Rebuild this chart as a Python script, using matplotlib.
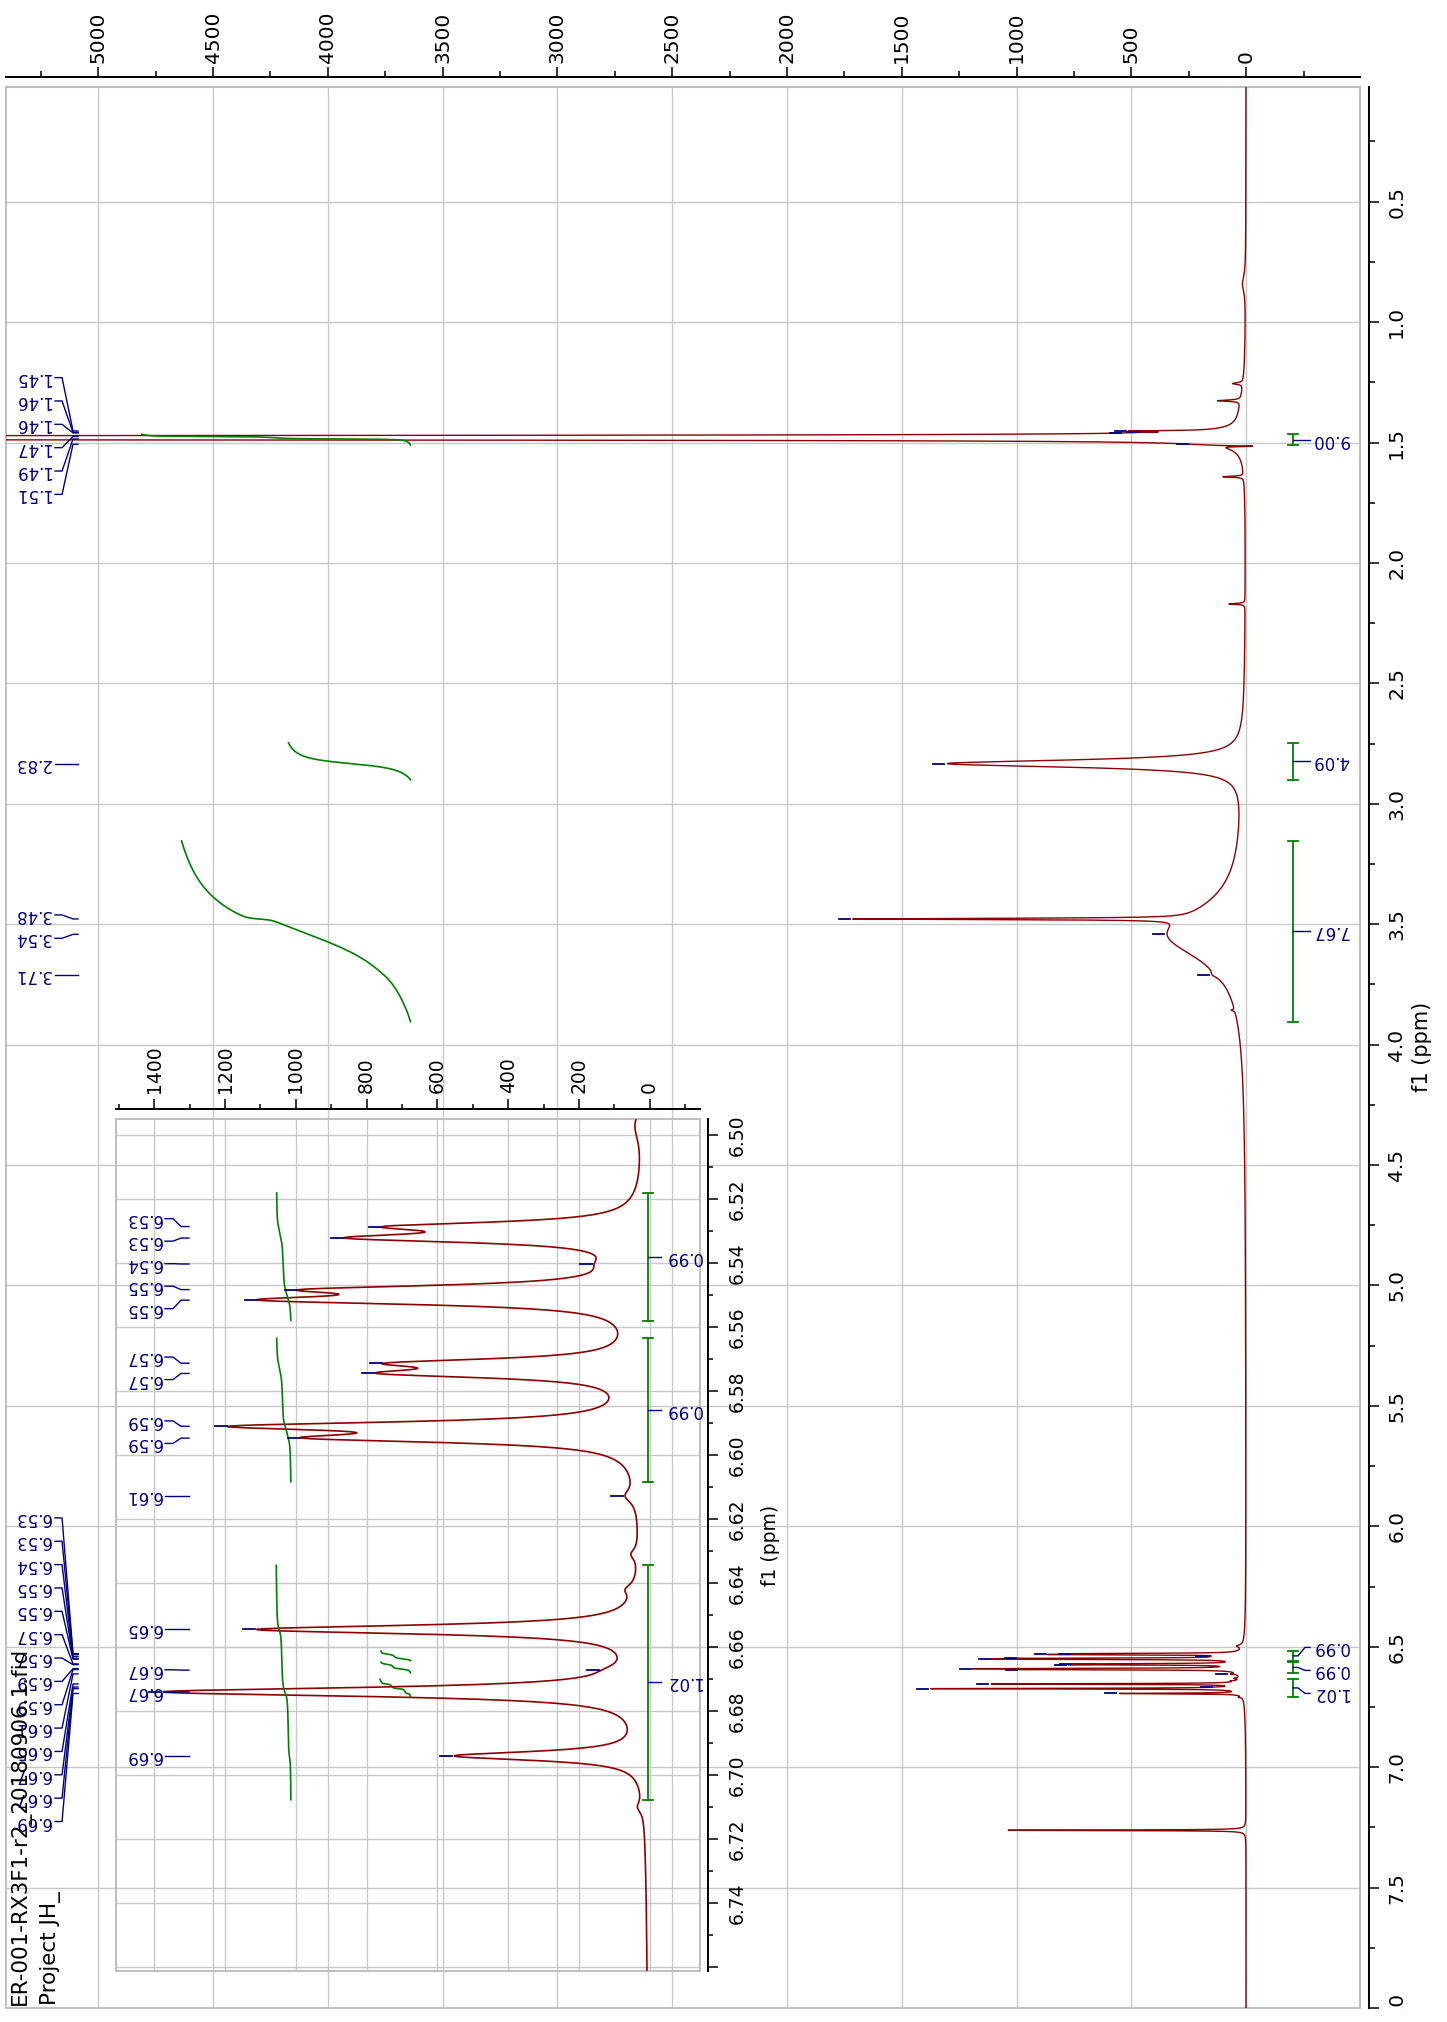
import numpy as np
import matplotlib
matplotlib.use("Agg")
import matplotlib.pyplot as plt
from matplotlib.ticker import MultipleLocator, FormatStrFormatter, FuncFormatter
from matplotlib.transforms import blended_transform_factory, Bbox, TransformedBbox
from matplotlib.patches import Rectangle

plt.rcParams['font.family'] = ['DejaVu Sans']

# ------------------------------------------------------------------ data
# peaks of the 1H spectrum: position (ppm), height, width (ppm)
peak_ppm = [0.84, 1.255, 1.326, 1.38, 1.452, 1.458, 1.460, 1.4749, 1.4851, 1.507, 1.515,
            1.642, 2.17, 2.833, 3.478, 3.542, 3.71, 3.857,
            6.497, 6.5286, 6.5322, 6.5403, 6.5483, 6.5516, 6.5713, 6.5745, 6.591, 6.5947,
            6.6128, 6.631, 6.642, 6.6545, 6.6672, 6.674, 6.694, 6.71, 6.60, 7.262]
peak_height = [14, 45, 100, 20, 280, 40, 30, 75000, 75000, 10, -170,
               90, 70, 1290, 1440, 340, 20, 15,
               25, 600, 720, 45, 765, 915, 580, 605, 1025, 780,
               30, 20, 25, 1080, 25, 1350, 530, 15, 20, 1040]
peak_width = [0.08, 0.008, 0.006, 0.25, 0.004, 0.003, 0.003, 0.002, 0.002, 0.004, 0.004,
              0.005, 0.005, 0.036, 0.006, 0.26, 0.03, 0.006,
              0.012, 0.0033, 0.0033, 0.006, 0.0033, 0.0033, 0.0033, 0.0033, 0.0033, 0.0033,
              0.005, 0.004, 0.004, 0.0033, 0.004, 0.0033, 0.0033, 0.004, 0.2, 0.003]

# labelled peaks (ppm)
label_ppm = [1.452, 1.458, 1.460, 1.4749, 1.4851, 1.507, 2.833, 3.478, 3.542, 3.71,
             6.5286, 6.5322, 6.5403, 6.5483, 6.5516, 6.5713, 6.5745, 6.591, 6.5947,
             6.6128, 6.6545, 6.6672, 6.674, 6.694]

# integrals
int_lo = [1.465, 2.747, 3.154, 6.518, 6.5633, 6.6343]
int_hi = [1.510, 2.900, 3.905, 6.558, 6.6084, 6.7077]
int_val = [9.00, 4.09, 7.67, 0.99, 0.99, 1.02]

title_lines = ["ER-001-RX3F1-r2_20180906.1.fid", "Project JH_"]

# axis ranges
main_xlim = (5402, -496)
main_ylim = (8.0, 0.0225)
inset_xlim = (1508, -142)
inset_ylim = (6.7612, 6.495)

# ------------------------------------------------------------------ style
RED = '#8b0000'
NAVY = '#000080'
GREEN = '#008000'
GRID = '#c8c8c8'
FRAME = '#c0c0c0'
W, H = 1447, 2022

ppm = np.arange(0.0225, 8.0002, 0.0002)
spec = np.zeros_like(ppm)
for p, a, w in zip(peak_ppm, peak_height, peak_width):
    spec += a / (1.0 + ((ppm - p) / (w / 2.0)) ** 2)


def spread(pos, sep):
    pos = np.asarray(pos, float)
    order = np.argsort(pos)
    p = pos[order]
    groups = [[i] for i in range(len(p))]

    def place(g):
        c = p[g].mean()
        n = len(g)
        return c + (np.arange(n) - (n - 1) / 2.0) * sep

    changed = True
    while changed:
        changed = False
        i = 0
        while i < len(groups) - 1:
            a = place(groups[i])
            b = place(groups[i + 1])
            if b[0] - a[-1] < sep - 1e-12:
                groups[i] = groups[i] + groups[i + 1]
                del groups[i + 1]
                changed = True
            else:
                i += 1
    out = np.empty(len(p))
    for g in groups:
        out[g] = place(g)
    res = np.empty(len(p))
    res[order] = out
    return res


def style_axes(a, xmaj, xmin, ymaj, ymin, xfmt, yfmt, lsize, out_top, out_right,
               tlen, tlen_minor, xpad, ypad):
    a.set_facecolor('none')
    a.xaxis.set_major_locator(MultipleLocator(xmaj))
    a.xaxis.set_minor_locator(MultipleLocator(xmin))
    a.yaxis.set_major_locator(MultipleLocator(ymaj))
    a.yaxis.set_minor_locator(MultipleLocator(ymin))
    a.xaxis.set_major_formatter(xfmt)
    a.yaxis.set_major_formatter(yfmt)
    a.xaxis.tick_top()
    a.yaxis.tick_right()
    a.tick_params(axis='both', which='both', direction='out', width=1.1, color='black')
    a.tick_params(axis='x', which='major', length=tlen, pad=xpad, labelsize=lsize,
                  labelrotation=90)
    a.tick_params(axis='y', which='major', length=tlen, pad=ypad, labelsize=lsize,
                  labelrotation=90)
    a.tick_params(axis='both', which='minor', length=tlen_minor)
    for s in ('left', 'bottom'):
        a.spines[s].set_visible(False)
    a.spines['top'].set_position(('outward', out_top))
    a.spines['right'].set_position(('outward', out_right))
    for s in ('top', 'right'):
        a.spines[s].set_linewidth(1.4)
        a.spines[s].set_color('black')
    a.add_patch(Rectangle((0, 0), 1, 1, transform=a.transAxes, fill=False,
                          ec=FRAME, lw=1.5, clip_on=False, zorder=1))
    a.grid(True, which='major', color=GRID, lw=1.0, zorder=0)
    a.set_axisbelow(True)
    for t in a.get_yticklabels():
        t.set_verticalalignment('center')


fig = plt.figure(figsize=(W / 100, H / 100), dpi=100)

# ------------------------------------------------------------------ main axes
ax = fig.add_axes([6 / W, 1 - 2008 / H, 1354 / W, 1921.3 / H])
ax.set_xlim(*main_xlim)
ax.set_ylim(*main_ylim)
style_axes(ax, 500, 250, 0.5, 0.25, FormatStrFormatter('%d'), FormatStrFormatter('%.1f'),
           14.5, 6.8, 6.7, 7.4, 4.3, 2.8, 5.5)
ax.set_ylabel('f1 (ppm)', fontsize=15)
ax.yaxis.set_label_position('right')
ax.yaxis.set_label_coords(1.0456, 0.5)
ax.yaxis.label.set_rotation(90)
ax.yaxis.label.set_va('center')
ax.yaxis.label.set_ha('center')

ax.plot(spec, ppm, color=RED, lw=1.0, zorder=3)

trm = blended_transform_factory(ax.transAxes, ax.transData)

# peak labels (main)
lab_vals = np.interp(label_ppm, ppm, spec)
lab_pos = spread(label_ppm, 23.35 / 240.8)
for p, v, ly in zip(label_ppm, lab_vals, lab_pos):
    ax.plot([0.0362, 0.0414, 0.0495, 0.0532], [ly, ly, p, p], transform=trm,
            color=NAVY, lw=1.0, zorder=4, clip_on=False)
    ax.text(0.0332, ly, f"{p:.2f}", transform=trm, rotation=180, ha='right',
            va='center', fontsize=12, color=NAVY, zorder=4)
    ax.plot([v + 13, v + 61], [p, p], color=NAVY, lw=1.3, zorder=4)

# integrals (main)
mids = [(lo + hi) / 2 for lo, hi in zip(int_lo, int_hi)]
int_lab_pos = spread(mids, 23.0 / 240.8)
for lo, hi, val, m, ly in zip(int_lo, int_hi, int_val, mids, int_lab_pos):
    bx = 0.9505
    ax.plot([bx, bx], [lo, hi], transform=trm, color=GREEN, lw=1.3, zorder=4)
    for e in (lo, hi):
        ax.plot([bx - 0.0037, bx + 0.0037], [e, e], transform=trm, color=GREEN,
                lw=1.3, zorder=4)
    ax.plot([bx, 0.9542, 0.9594, 0.9631], [m, m, ly, ly], transform=trm, color=NAVY,
            lw=1.0, zorder=4)
    ax.text(0.9646, ly, f"{val:.2f}", transform=trm, rotation=180, ha='left',
            va='center', fontsize=12, color=NAVY, zorder=4)
    mask = (ppm >= lo) & (ppm <= hi)
    seg = spec[mask]
    cum = np.cumsum(seg[::-1])[::-1]
    ax.plot(3640 + 130 * val * cum / cum[0], ppm[mask], color=GREEN, lw=1.2, zorder=3)

# file name text
ax.text(0.0103, 0.0016, title_lines[0], transform=ax.transAxes, rotation=90,
        ha='center', va='bottom', fontsize=15.5, color='black', zorder=5)
ax.text(0.0325, 0.0016, title_lines[1], transform=ax.transAxes, rotation=90,
        ha='center', va='bottom', fontsize=15.5, color='black', zorder=5)

# ------------------------------------------------------------------ inset axes
axi = fig.add_axes([116 / W, 1 - 1971 / H, 584 / W, 852 / H])
axi.set_xlim(*inset_xlim)
axi.set_ylim(*inset_ylim)
style_axes(axi, 200, 100, 0.02, 0.01, FormatStrFormatter('%d'),
           FuncFormatter(lambda v, pos: '' if v > 6.755 else f"{v:.2f}"),
           13.5, 7.2, 5.8, 7.2, 3.8, 4.3, 7.0)
axi.set_ylabel('f1 (ppm)', fontsize=13.5)
axi.yaxis.set_label_position('right')
axi.yaxis.set_label_coords(1.12, 0.5)
axi.yaxis.label.set_rotation(90)
axi.yaxis.label.set_va('center')
axi.yaxis.label.set_ha('center')

axi.plot(spec, ppm, color=RED, lw=1.2, zorder=3)
tri = blended_transform_factory(axi.transAxes, axi.transData)

in_sel = [i for i, p in enumerate(label_ppm) if inset_ylim[1] < p < inset_ylim[0]]
in_ppm = [label_ppm[i] for i in in_sel]
in_vals = np.interp(in_ppm, ppm, spec)
in_pos = spread(in_ppm, 22.5 / 3200)
for p, v, ly in zip(in_ppm, in_vals, in_pos):
    axi.plot([0.0839, 0.0976, 0.1113, 0.125], [ly, ly, p, p], transform=tri,
             color=NAVY, lw=1.0, zorder=4)
    axi.text(0.0788, ly, f"{p:.2f}", transform=tri, rotation=180, ha='right',
             va='center', fontsize=12, color=NAVY, zorder=4)
    axi.plot([v + 6, v + 40], [p, p], color=NAVY, lw=1.3, zorder=4)

for lo, hi, val in zip(int_lo, int_hi, int_val):
    if not (inset_ylim[1] < lo and hi < inset_ylim[0]):
        continue
    m = (lo + hi) / 2
    bx = 0.9103
    axi.plot([bx, bx], [lo, hi], transform=tri, color=GREEN, lw=1.3, zorder=4)
    for e in (lo, hi):
        axi.plot([bx - 0.0086, bx + 0.0086], [e, e], transform=tri, color=GREEN,
                 lw=1.3, zorder=4)
    axi.plot([bx, 0.934], [m, m], transform=tri, color=NAVY, lw=1.0, zorder=4)
    axi.text(0.9408, m, f"{val:.2f}", transform=tri, rotation=180, ha='left',
             va='center', fontsize=12, color=NAVY, zorder=4)
    mask = (ppm >= lo) & (ppm <= hi)
    seg = spec[mask]
    cum = np.cumsum(seg[::-1])[::-1]
    axi.plot(1014 + 40.4 * val * cum / cum[0], ppm[mask], color=GREEN, lw=1.2, zorder=3)

# clip the partially visible last ppm label like the reference
clipbox = TransformedBbox(Bbox([[0, 1 - 2009.5 / H], [1, 1]]), fig.transFigure)
for t in ax.yaxis.get_ticklabels():
    t.set_clip_box(clipbox)
    t.set_clip_on(True)

fig.savefig('out.png', dpi=100)
